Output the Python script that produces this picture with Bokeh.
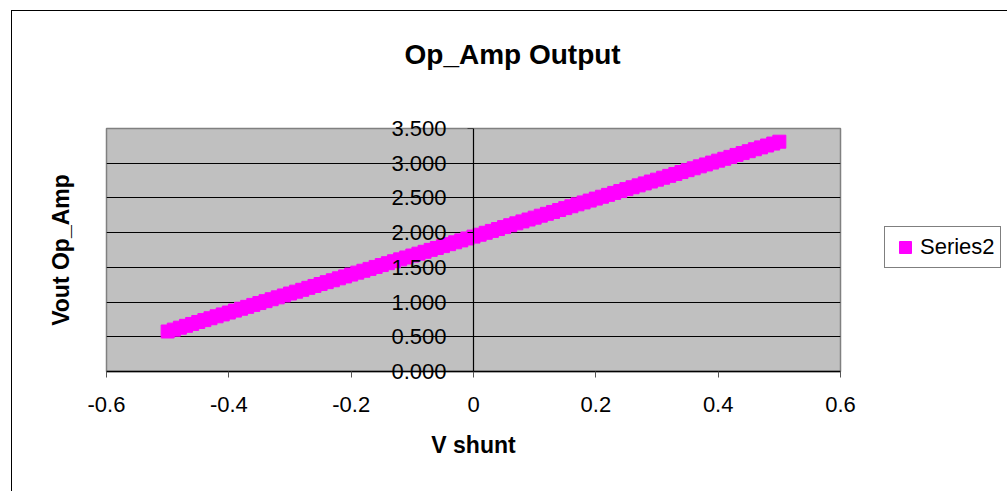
from bokeh.plotting import figure
from bokeh.models import (LinearAxis, FixedTicker, Legend, LegendItem, Title,
                          Range1d, InlineStyleSheet)
from bokeh.embed import file_html
from bokeh.resources import INLINE

# ---- data ----
v_shunt = [-0.50, -0.49, -0.48, -0.47, -0.46, -0.45, -0.44, -0.43, -0.42, -0.41,
           -0.40, -0.39, -0.38, -0.37, -0.36, -0.35, -0.34, -0.33, -0.32, -0.31,
           -0.30, -0.29, -0.28, -0.27, -0.26, -0.25, -0.24, -0.23, -0.22, -0.21,
           -0.20, -0.19, -0.18, -0.17, -0.16, -0.15, -0.14, -0.13, -0.12, -0.11,
           -0.10, -0.09, -0.08, -0.07, -0.06, -0.05, -0.04, -0.03, -0.02, -0.01,
           0.00, 0.01, 0.02, 0.03, 0.04, 0.05, 0.06, 0.07, 0.08, 0.09,
           0.10, 0.11, 0.12, 0.13, 0.14, 0.15, 0.16, 0.17, 0.18, 0.19,
           0.20, 0.21, 0.22, 0.23, 0.24, 0.25, 0.26, 0.27, 0.28, 0.29,
           0.30, 0.31, 0.32, 0.33, 0.34, 0.35, 0.36, 0.37, 0.38, 0.39,
           0.40, 0.41, 0.42, 0.43, 0.44, 0.45, 0.46, 0.47, 0.48, 0.49, 0.50]
vout = [0.576, 0.603, 0.631, 0.658, 0.685, 0.713, 0.740, 0.767, 0.795, 0.822,
        0.849, 0.877, 0.904, 0.931, 0.959, 0.986, 1.013, 1.041, 1.068, 1.095,
        1.123, 1.150, 1.177, 1.205, 1.232, 1.260, 1.287, 1.314, 1.342, 1.369,
        1.396, 1.424, 1.451, 1.478, 1.506, 1.533, 1.560, 1.588, 1.615, 1.642,
        1.670, 1.697, 1.724, 1.752, 1.779, 1.806, 1.834, 1.861, 1.888, 1.916,
        1.943, 1.970, 1.998, 2.025, 2.052, 2.080, 2.107, 2.134, 2.162, 2.189,
        2.216, 2.244, 2.271, 2.298, 2.326, 2.353, 2.380, 2.408, 2.435, 2.462,
        2.490, 2.517, 2.544, 2.572, 2.599, 2.627, 2.654, 2.681, 2.709, 2.736,
        2.763, 2.791, 2.818, 2.845, 2.873, 2.900, 2.927, 2.955, 2.982, 3.009,
        3.037, 3.064, 3.091, 3.119, 3.146, 3.173, 3.201, 3.228, 3.255, 3.283, 3.310]
series_name = "Series2"

x_ticks = [-0.6, -0.4, -0.2, 0.0, 0.2, 0.4, 0.6]
x_tick_labels = ["-0.6", "-0.4", "-0.2", "0", "0.2", "0.4", "0.6"]
y_ticks = [0.0, 0.5, 1.0, 1.5, 2.0, 2.5, 3.0, 3.5]
y_tick_labels = ["0.000", "0.500", "1.000", "1.500", "2.000", "2.500", "3.000", "3.500"]

chart_title = "Op_Amp Output"
x_title = "V shunt"
y_title = "Vout Op_Amp"

FONT = "Liberation Sans"
MAGENTA = "#FF00FF"

FW, FH = 734, 243
p = figure(frame_width=FW, frame_height=FH,
           output_backend="svg", toolbar_location=None,
           x_range=Range1d(-0.6, 0.6), y_range=Range1d(0, 3.5),
           y_axis_location=None,
           min_border_left=106, min_border_right=167,
           min_border_top=128, min_border_bottom=120,
           background_fill_color="#C0C0C0", border_fill_color="white")

p.outline_line_color = "#808080"
p.outline_line_width = 1.5

# outer chart border (left and top edges are visible in the reference)
p.stylesheets = [InlineStyleSheet(css="""
:host { position: relative; }
:host::after {
  content: ""; position: absolute; left: 11px; top: 10px; right: 0; bottom: 0;
  border-left: 1.5px solid #000; border-top: 1.5px solid #000;
  pointer-events: none;
}
""")]

# spacer between frame and chart title
p.add_layout(Title(text=" ", text_font=FONT, text_font_size="26px", standoff=27), "above")

# chart title
p.title.text = chart_title
p.title.text_font = FONT
p.title.text_font_size = "28px"
p.title.text_font_style = "bold"
p.title.text_color = "black"
p.title.align = "left"
p.title.vertical_align = "bottom"
p.title.offset = 298
p.title.standoff = 0

# grid
p.xgrid.visible = False
p.ygrid.ticker = FixedTicker(ticks=y_ticks)
p.ygrid.grid_line_color = "black"
p.ygrid.grid_line_width = 1

# x axis
xa = p.xaxis[0]
xa.ticker = FixedTicker(ticks=x_ticks)
xa.major_label_overrides = {t: l for t, l in zip(x_ticks, x_tick_labels)}
xa.major_tick_out = 6
xa.major_tick_in = 0
xa.minor_tick_out = 0
xa.minor_tick_in = 0
xa.axis_line_color = "black"
xa.axis_line_width = 1.5
xa.major_tick_line_color = "#555555"
xa.major_label_text_font = FONT
xa.major_label_text_font_size = "22px"
xa.major_label_text_color = "black"
xa.major_label_standoff = 19
xa.axis_label = x_title
xa.axis_label_text_font = FONT
xa.axis_label_text_font_size = "23px"
xa.axis_label_text_font_style = "bold"
xa.axis_label_text_color = "black"
xa.axis_label_standoff = 17

# y-axis title (nearest the frame in the left panel)
yt = Title(text=y_title, text_font=FONT, text_font_size="23px",
           text_font_style="bold", text_color="black", align="center",
           standoff=66)
p.add_layout(yt, "left")

# y axis line + ticks crossing at x = 0
ya = LinearAxis(fixed_location=0,
                ticker=FixedTicker(ticks=y_ticks),
                major_label_overrides={t: "" for t in y_ticks},
                major_tick_out=6, major_tick_in=0,
                minor_tick_out=0, minor_tick_in=0,
                axis_line_color="black", axis_line_width=1.2,
                major_label_text_font_size="1px")
p.add_layout(ya, "left")

# y tick labels: a left axis whose labels are pushed right to sit beside x = 0
yl = LinearAxis(ticker=FixedTicker(ticks=y_ticks),
                major_label_overrides={t: l for t, l in zip(y_ticks, y_tick_labels)},
                major_tick_out=0, major_tick_in=0,
                minor_tick_out=0, minor_tick_in=0,
                axis_line_color=None, major_tick_line_color=None,
                minor_tick_line_color=None,
                major_label_text_font=FONT,
                major_label_text_font_size="22px",
                major_label_text_color="black",
                major_label_standoff=-434)
p.add_layout(yl, "left")

# data
r = p.scatter(v_shunt, vout, marker="square", size=13,
              fill_color=MAGENTA, line_color=MAGENTA)

legend = Legend(items=[LegendItem(label=series_name, renderers=[r])],
                location=(44, 103), margin=0,
                border_line_color="black", border_line_width=1,
                background_fill_color="white", background_fill_alpha=1,
                label_text_font=FONT, label_text_font_size="22px",
                label_text_color="black", label_standoff=0,
                glyph_width=30, glyph_height=30, padding=5)
p.add_layout(legend, "right")

open("out.html", "w").write(file_html(p, INLINE))
